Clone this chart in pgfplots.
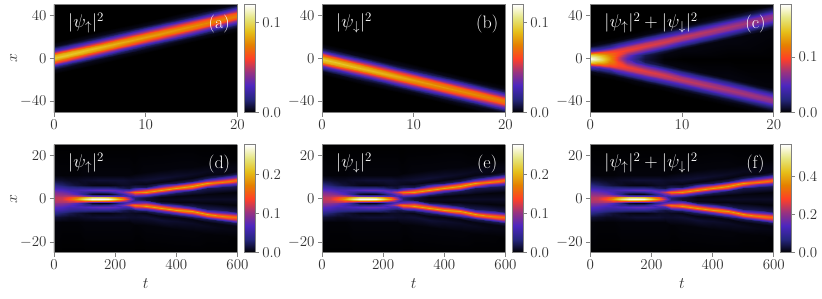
\documentclass[border=0pt]{standalone}
\usepackage{fix-cm}
\usepackage{pgfplots}
\usepackage{pgfplotstable}
\pgfplotsset{compat=1.18}
\definecolor{spine}{gray}{0.5}
\definecolor{txt}{gray}{0.2}
\pgfplotstableread{
t x v
0 -14.5 0
0 -10.5 .003
0 -8.3 .013
0 -6.3 .032
0 -4 .058
0 -1.8 .084
0 .5 .095
0 2.8 .084
0 5 .058
0 7.3 .032
0 9.3 .013
0 11.5 .003
0 15.5 0
5 -4.7 0
5 -.7 .003
5 1.5 .012
5 3.5 .029
5 5.8 .055
5 8 .079
5 10.3 .09
5 12.6 .079
5 14.8 .055
5 17.1 .029
5 19.1 .012
5 21.3 .003
5 25.3 0
10 5.1 0
10 9.1 .003
10 11.3 .011
10 13.3 .027
10 15.6 .05
10 17.8 .073
10 20.1 .083
10 22.4 .073
10 24.6 .05
10 26.9 .027
10 28.9 .011
10 31.1 .003
10 35.1 0
15 14.9 0
15 18.9 .003
15 21.1 .011
15 23.1 .026
15 25.4 .048
15 27.6 .07
15 29.9 .079
15 32.2 .07
15 34.4 .048
15 36.7 .026
15 38.7 .011
15 40.9 .003
15 44.9 0
20 24.7 0
20 28.7 .002
20 30.9 .01
20 32.9 .024
20 35.2 .046
20 37.4 .066
20 39.7 .075
20 42 .066
20 44.2 .046
20 46.5 .024
20 48.5 .01
20 50.7 .002
20 54.7 0
}\tabA
\pgfplotstableread{
t x v
0 0 .193
0 0 .193
0 0 .193
0 0 .193
0 0 .193
0 0 .193
0 .5 .192
0 2.8 .162
0 5 .106
0 7.3 .054
0 9.3 .022
0 11.5 .005
0 15.5 0
1 0 .173
1 0 .173
1 0 .173
1 0 .173
1 0 .173
1 0 .173
1 2.4 .158
1 4.7 .119
1 6.9 .073
1 9.2 .036
1 11.2 .014
1 13.4 .004
1 17.4 0
2 0 .133
2 0 .133
2 0 .133
2 0 .133
2 0 .133
2 1.8 .13
2 4.3 .118
2 6.6 .093
2 8.8 .061
2 11.1 .032
2 13.1 .013
2 15.3 .003
2 19.3 0
3 0 .089
3 0 .089
3 0 .089
3 0 .089
3 1.2 .09
3 3.7 .098
3 6.2 .1
3 8.5 .086
3 10.7 .059
3 13 .031
3 15 .013
3 17.2 .003
3 21.2 0
4 0 .051
4 0 .051
4 0 .051
4 .6 .052
4 3.1 .065
4 5.6 .086
4 8.1 .095
4 10.4 .084
4 12.6 .058
4 14.9 .031
4 16.9 .013
4 19.1 .003
4 23.1 0
5 0 .026
5 0 .026
5 0 .026
5 3 .035
5 5.5 .059
5 7.7 .084
5 10 .093
5 12.3 .082
5 14.5 .056
5 16.8 .03
5 18.8 .012
5 21 .003
5 25 0
6 0 .011
6 0 .011
6 2.9 .015
6 5.1 .031
6 7.4 .057
6 9.6 .081
6 11.9 .091
6 14.2 .08
6 16.4 .055
6 18.7 .03
6 20.7 .012
6 22.9 .003
6 26.9 0
8 0 .001
8 4.5 .003
8 6.7 .012
8 8.7 .029
8 11 .053
8 13.2 .078
8 15.5 .088
8 17.8 .078
8 20 .053
8 22.3 .029
8 24.3 .012
8 26.5 .003
8 30.5 0
10 0 0
10 8.5 .003
10 10.7 .011
10 12.7 .027
10 15 .051
10 17.2 .074
10 19.5 .084
10 21.8 .074
10 24 .051
10 26.3 .027
10 28.3 .011
10 30.5 .003
10 34.5 0
15 0 0
15 18 .003
15 20.2 .011
15 22.2 .025
15 24.5 .047
15 26.7 .069
15 29 .078
15 31.3 .069
15 33.5 .047
15 35.8 .025
15 37.8 .011
15 40 .003
15 44 0
20 0 0
20 27.5 .002
20 29.7 .01
20 31.7 .024
20 34 .044
20 36.2 .064
20 38.5 .073
20 40.8 .064
20 43 .044
20 45.3 .024
20 47.3 .01
20 49.5 .002
20 53.5 0
}\tabC
\pgfplotstableread{
t x v
0 0 .115
0 .7 .114
0 1.4 .11
0 2.2 .1
0 3 .09
0 4 .075
0 5 .06
0 6.5 .038
0 8.5 .015
0 11 .003
0 26 0
25 0 .122
25 .7 .118
25 1.4 .11
25 2.2 .098
25 3 .085
25 4 .07
25 5 .054
25 6.5 .03
25 8.5 .012
25 11 .002
25 26 0
50 0 .15
50 .7 .135
50 1.4 .115
50 2.2 .09
50 3 .075
50 4 .06
50 5 .045
50 6.5 .022
50 8.5 .009
50 11 .002
50 26 0
75 0 .19
75 .7 .165
75 1.4 .115
75 2.2 .07
75 3 .06
75 4 .06
75 5 .042
75 6.5 .015
75 8.5 .009
75 11 .002
75 26 0
100 0 .245
100 .7 .2
100 1.4 .1
100 2.2 .035
100 3 .045
100 4 .065
100 5 .042
100 6.5 .01
100 8.5 .011
100 11 .003
100 26 0
125 0 .275
125 .7 .225
125 1.4 .08
125 2.2 .01
125 3 .035
125 4 .072
125 5 .04
125 6.5 .006
125 8.5 .012
125 11 .003
125 26 0
150 0 .28
150 .7 .225
150 1.4 .075
150 2.2 .005
150 3 .035
150 4 .08
150 5 .04
150 6.5 .005
150 8.5 .014
150 11 .003
150 26 0
175 0 .275
175 .7 .215
175 1.4 .075
175 2.2 .006
175 3 .04
175 4 .08
175 5 .04
175 6.5 .005
175 8.5 .014
175 11 .003
175 26 0
200 0 .235
200 .7 .185
200 1.4 .07
200 2.2 .02
200 3 .055
200 4 .075
200 5 .034
200 6.5 .007
200 8.5 .014
200 11 .003
200 26 0
225 0 .18
225 .7 .14
225 1.4 .065
225 2.2 .05
225 3 .085
225 4 .06
225 5 .024
225 6.5 .01
225 8.5 .014
225 11 .003
225 26 0
245 0 .11
245 .7 .085
245 1.4 .06
245 2.2 .085
245 3 .12
245 4 .06
245 5 .018
245 6.5 .01
245 8.5 .012
245 11 .003
245 26 0
265 0 .03
265 .3 .03
265 .6 .035
265 1.8 .09
265 3 .17
265 4.2 .09
265 5.4 .024
265 6.6 .008
265 8.5 .012
265 12 .002
265 26 0
300 0 .015
300 .4 .015
300 .8 .022
300 2 .1
300 3.2 .19
300 4.4 .1
300 5.6 .022
300 6.8 .006
300 8.7 .014
300 12.2 .003
300 26 0
350 0 .008
350 1 .005
350 1.8 .022
350 3 .1
350 4.2 .195
350 5.4 .1
350 6.6 .022
350 7.8 .005
350 9.7 .014
350 13.2 .003
350 26 0
400 0 .008
400 1.3 .004
400 2.6 .022
400 3.8 .1
400 5 .195
400 6.2 .1
400 7.4 .022
400 8.6 .005
400 10.5 .012
400 14 .003
400 27 0
450 0 .01
450 1.7 .004
450 3.5 .022
450 4.7 .1
450 5.9 .195
450 7.1 .1
450 8.3 .022
450 9.5 .005
450 11.4 .01
450 14.9 .003
450 27 0
500 0 .01
500 2.2 .004
500 4.8 .022
500 6 .1
500 7.2 .195
500 8.4 .1
500 9.6 .022
500 10.8 .005
500 12.7 .008
500 16.2 .002
500 27 0
550 0 .01
550 2.5 .003
550 5.4 .022
550 6.6 .092
550 7.9 .18
550 9.2 .092
550 10.4 .022
550 11.6 .005
550 13.5 .006
550 17 .002
550 27 0
600 0 .01
600 3 .003
600 6 .022
600 7.3 .088
600 8.7 .17
600 10.1 .088
600 11.4 .022
600 12.6 .005
600 14.5 .005
600 18 .001
600 27 0
}\tabD
\pgfplotsset{
  colormap={cmr}{rgb=(0,0,0) rgb=(.15,.15,.5) rgb=(.3,.15,.75) rgb=(.6,.2,.5) rgb=(1,.25,.15) rgb=(.9,.5,0) rgb=(.9,.75,.1) rgb=(.9,.9,.5) rgb=(1,1,1)},
  panel/.style={
    scale only axis, width=183.5pt, height=108pt, anchor=south west,
    view={0}{90}, colormap name=cmr, ztick=\empty,
    axis background/.style={fill=black},
    axis line style={spine, line width=0.8pt},
    tick style={spine, line width=0.8pt},
    tick align=outside, tickwidth=4pt,
    xtick pos=bottom, ytick pos=left, axis on top,
    tick label style={txt},
    every tick label/.append style={font=\fontsize{15}{18}\selectfont},
    label style={txt, font=\fontsize{16}{18}\selectfont},
    ylabel shift=-4pt, xlabel shift=2pt,
    enlargelimits=false,
    colorbar,
    colorbar style={
      scale only axis, width=11pt, height=108pt,
      at={(parent axis.north east)}, anchor=north west, xshift=-1.8pt,
      axis line style={spine, line width=0.8pt},
      tick style={spine, line width=0.8pt},
      tick align=outside, tickwidth=3.5pt,
      yticklabel pos=right, ytick pos=right,
      tick label style={txt},
      every tick label/.append style={font=\fontsize{15}{18}\selectfont},
      yticklabel style={/pgf/number format/fixed, /pgf/number format/fixed zerofill, /pgf/number format/precision=1},
    },
  },
  toprow/.style={panel, xmin=0, xmax=20, ymin=-50, ymax=50, xtick={0,10,20}, ytick={-40,0,40}},
  botrow/.style={panel, xmin=0, xmax=600, ymin=-25, ymax=25, xtick={0,200,400,600}, ytick={-20,0,20}, xlabel={$t$}},
  hm/.style={surf, shader=interp},
}
\newcommand{\lab}[2]{%
  \node[white, anchor=west, font=\fontsize{18.5}{20}\selectfont] at (axis description cs:0.058,0.83) {#1};
  \node[white, font=\fontsize{18}{20}\selectfont] at (axis description cs:0.9,0.82) {#2};}
\begin{document}
\begin{tikzpicture}
\path[use as bounding box] (0pt,0pt) rectangle (822pt,298pt);
% (a)
\begin{axis}[toprow, at={(54pt,185.5pt)}, point meta min=0, point meta max=0.12, ylabel={$x$},
  colorbar style={ytick={0,0.1}}]
\addplot3[hm, mesh/ordering=y varies, mesh/rows=13, mesh/cols=5] table[x=t,y=x,z=v] {\tabA};
\lab{$|\psi_\uparrow|^2$}{(a)}
\end{axis}
% (b)
\begin{axis}[toprow, at={(322pt,185.5pt)}, point meta min=0, point meta max=0.12,
  colorbar style={ytick={0,0.1}}]
\addplot3[hm, mesh/ordering=y varies, mesh/rows=13, mesh/cols=5] table[x=t,y expr=-\thisrow{x},z=v] {\tabA};
\lab{$|\psi_\downarrow|^2$}{(b)}
\end{axis}
% (c)
\begin{axis}[toprow, at={(590.3pt,185.5pt)}, point meta min=0, point meta max=0.195,
  colorbar style={ytick={0,0.1}}]
\addplot3[hm, mesh/ordering=y varies, mesh/rows=13, mesh/cols=11] table[x=t,y=x,z=v] {\tabC};
\addplot3[hm, mesh/ordering=y varies, mesh/rows=13, mesh/cols=11] table[x=t,y expr=-\thisrow{x},z=v] {\tabC};
\lab{$|\psi_\uparrow|^2+|\psi_\downarrow|^2$}{(c)}
\end{axis}
% (d)
\begin{axis}[botrow, at={(54pt,45.3pt)}, point meta min=0, point meta max=0.277, ylabel={$x$},
  colorbar style={ytick={0,0.1,0.2}}]
\addplot3[hm, mesh/ordering=y varies, mesh/rows=11, mesh/cols=19] table[x=t,y=x,z=v] {\tabD};
\addplot3[hm, mesh/ordering=y varies, mesh/rows=11, mesh/cols=19] table[x=t,y expr=-\thisrow{x},z=v] {\tabD};
\lab{$|\psi_\uparrow|^2$}{(d)}
\end{axis}
% (e)
\begin{axis}[botrow, at={(322pt,45.3pt)}, point meta min=0, point meta max=0.277,
  colorbar style={ytick={0,0.1,0.2}}]
\addplot3[hm, mesh/ordering=y varies, mesh/rows=11, mesh/cols=19] table[x=t,y=x,z=v] {\tabD};
\addplot3[hm, mesh/ordering=y varies, mesh/rows=11, mesh/cols=19] table[x=t,y expr=-\thisrow{x},z=v] {\tabD};
\lab{$|\psi_\downarrow|^2$}{(e)}
\end{axis}
% (f)
\begin{axis}[botrow, at={(590.3pt,45.3pt)}, point meta min=0, point meta max=0.565,
  colorbar style={ytick={0,0.2,0.4}}]
\addplot3[hm, mesh/ordering=y varies, mesh/rows=11, mesh/cols=19] table[x=t,y=x,z expr=2*\thisrow{v}] {\tabD};
\addplot3[hm, mesh/ordering=y varies, mesh/rows=11, mesh/cols=19] table[x=t,y expr=-\thisrow{x},z expr=2*\thisrow{v}] {\tabD};
\lab{$|\psi_\uparrow|^2+|\psi_\downarrow|^2$}{(f)}
\end{axis}
\end{tikzpicture}
\end{document}
